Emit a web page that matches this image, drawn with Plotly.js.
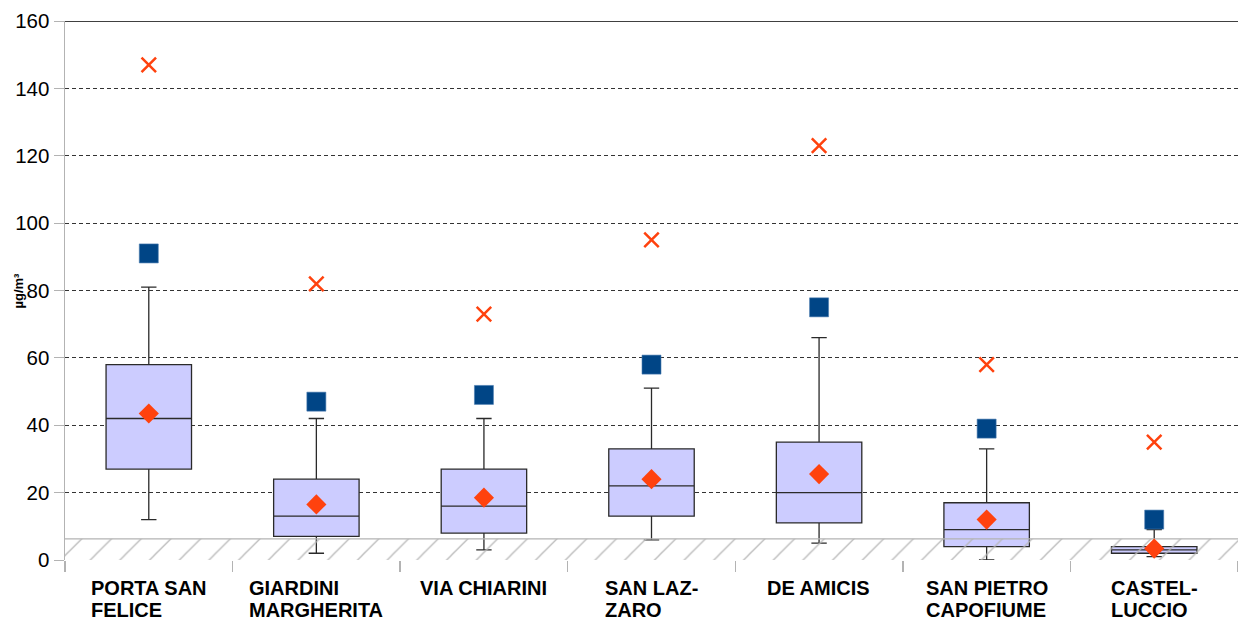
<!DOCTYPE html>
<html>
<head>
<meta charset="utf-8">
<script src="https://cdn.plot.ly/plotly-3.0.1.min.js"></script>
<style>html,body{margin:0;padding:0;background:#fff;}#chart{width:1238px;height:623px;}</style>
</head>
<body>
<div id="chart"></div>
<script>
const categories = ["PORTA SAN<br>FELICE", "GIARDINI<br>MARGHERITA", "VIA CHIARINI", "SAN LAZ-<br>ZARO", "DE AMICIS", "SAN PIETRO<br>CAPOFIUME", "CASTEL-<br>LUCCIO"];
const lowerWhisker = [12, 2, 3, 6, 5, 0, 1];
const q1 = [27, 7, 8, 13, 11, 4, 2];
const median = [42, 13, 16, 22, 20, 9, 3];
const q3 = [58, 24, 27, 33, 35, 17, 4];
const upperWhisker = [81, 42, 42, 51, 66, 33, 9];
const meanValues = [43.5, 16.5, 18.5, 24, 25.5, 12, 3.4];
const squareValues = [91, 47, 49, 58, 75, 39, 12];
const maxValues = [147, 82, 73, 95, 123, 58, 35];
const detectionLimit = 6.3;
const yTicks = [0, 20, 40, 60, 80, 100, 120, 140, 160];
const yTitle = "µg/m³";

const W = 1238, H = 623;
const margin = {l: 65, r: 0, t: 21, b: 63};
const pos = categories.map((c, i) => i);
const n = categories.length;
const pxPerUnit = (W - margin.l - margin.r) / n;

const band = {
  type: 'scatter', mode: 'lines',
  x: [-0.5, n - 0.5], y: [detectionLimit, detectionLimit],
  fill: 'tozeroy',
  fillcolor: 'rgba(0,0,0,0)',
  fillpattern: {shape: '/', fgcolor: '#b8b8b8', bgcolor: 'rgba(255,255,255,0)', size: 21, solidity: 0.06},
  line: {color: '#b3b3b3', width: 1.2},
  hoverinfo: 'skip', showlegend: false
};

const boxes = {
  type: 'box',
  x: pos, q1: q1, median: median, q3: q3,
  lowerfence: lowerWhisker, upperfence: upperWhisker,
  width: 0.51, whiskerwidth: 0.18,
  fillcolor: '#ccccff',
  line: {color: '#2a2a2a', width: 1.3},
  boxpoints: false, showlegend: false
};

const means = {
  type: 'scatter', mode: 'markers', x: pos, y: meanValues,
  marker: {symbol: 'diamond', size: 15.5, color: '#ff420e'}, showlegend: false
};
const squares = {
  type: 'scatter', mode: 'markers', x: pos, y: squareValues,
  marker: {symbol: 'square', size: 19, color: '#004586', line: {color: '#4a7cb0', width: 0.6}}, showlegend: false
};
const maxes = {
  type: 'scatter', mode: 'markers', x: pos, y: maxValues,
  marker: {symbol: 'x-thin', size: 14.5, color: '#ff420e', line: {color: '#ff420e', width: 2.5}}, showlegend: false
};

const boundaries = [];
for (let i = 0; i <= n; i++) boundaries.push(i - 0.5);

const labelSize = 20;
const labelFamily = 'Liberation Sans, Arial, sans-serif';
const labelFont = {family: labelFamily, size: labelSize, color: '#000'};
const ctx = document.createElement('canvas').getContext('2d');
ctx.font = 'bold ' + labelSize + 'px "Liberation Sans", Arial, sans-serif';

const annotations = [];
categories.forEach((c, i) => {
  const lines = c.split('<br>');
  const blockW = Math.max(...lines.map(s => ctx.measureText(s).width));
  const left = i - (blockW / 2 + 1) / pxPerUnit;
  lines.forEach((s, k) => {
    annotations.push({
      x: left, xref: 'x', y: 0, yref: 'paper', yanchor: 'top', xanchor: 'left',
      yshift: -16 - 22 * k, showarrow: false, borderpad: 0,
      text: '<b>' + s + '</b>', font: labelFont
    });
  });
});
annotations.push({
  x: -47 / (W - margin.l - margin.r), xref: 'paper', y: 0.5, yref: 'paper', xanchor: 'center', yanchor: 'middle',
  textangle: -90, showarrow: false, text: '<b>' + yTitle + '</b>',
  font: {family: labelFamily, size: 13, color: '#000'}
});

const layout = {
  width: W, height: H,
  margin: margin,
  paper_bgcolor: '#fff', plot_bgcolor: '#fff',
  font: {family: labelFamily, color: '#000'},
  xaxis: {
    range: [-0.5, n - 0.5], tickvals: boundaries, showticklabels: false,
    ticks: 'outside', ticklen: 11, tickcolor: '#b3b3b3', tickwidth: 1.5,
    showgrid: false, zeroline: false, showline: false, fixedrange: true
  },
  yaxis: {
    range: [0, 160], tickvals: yTicks,
    ticks: 'outside', ticklen: 10, tickcolor: '#b3b3b3', tickwidth: 1,
    tickfont: {size: 20.5, color: '#000'},
    showline: true, linecolor: '#b3b3b3', linewidth: 1.5,
    showgrid: true, gridcolor: '#333333', griddash: '4px,3px', gridwidth: 1,
    zeroline: false
  },
  shapes: [{type: 'line', xref: 'paper', x0: 0, x1: 1, yref: 'y', y0: 160, y1: 160, line: {color: '#000', width: 1.5}}],
  annotations: annotations,
  showlegend: false
};

Plotly.newPlot('chart', [band, boxes, means, squares, maxes], layout, {displayModeBar: false, staticPlot: true});
</script>
</body>
</html>
